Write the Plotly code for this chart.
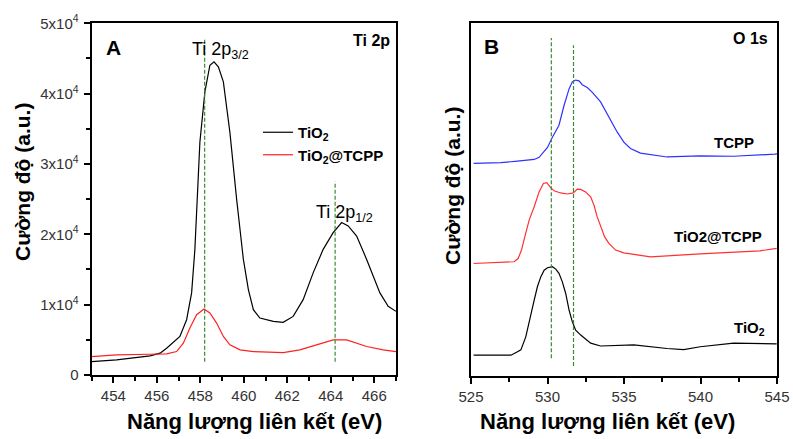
import plotly.graph_objects as go

# ---------- Panel A : Ti 2p ----------
a_tio2_x = [453.0, 454.15, 455.69, 456.15, 456.45, 457.06, 457.37, 457.60, 457.75, 457.83,
            457.98, 458.21, 458.44, 458.63, 458.83, 459.06, 459.36, 459.67, 459.98, 460.21,
            460.44, 460.74, 461.36, 461.81, 462.27, 462.73, 463.19, 463.65, 464.11, 464.50,
            464.80, 465.19, 465.65, 466.26, 466.64, 467.0]
a_tio2_y = [1900, 2140, 2710, 3100, 3810, 5480, 7860, 11670, 17860, 23100,
            33100, 40240, 44040, 44530, 43810, 41670, 34520, 25000, 16430, 12140,
            9290, 8100, 7620, 7480, 8330, 10710, 14520, 17860, 20240, 21670,
            21190, 19760, 16430, 11670, 9760, 9050]

a_tcpp_x = [453.0, 454.15, 455.69, 456.45, 456.91, 457.22, 457.52, 457.83, 458.17, 458.44,
            458.75, 459.06, 459.36, 459.83, 460.44, 461.81, 462.58, 463.35, 464.11, 464.73,
            465.19, 465.65, 466.41, 467.0]
a_tcpp_y = [2620, 2860, 2950, 3000, 3330, 4520, 6670, 8570, 9380, 8810,
            7380, 5480, 4290, 3570, 3330, 3190, 3570, 4290, 5000, 5000,
            4520, 4050, 3570, 3330]

a_peaks = [458.2, 464.2]
a_yticks = [0, 10000, 20000, 30000, 40000, 50000]
a_yticktext = ["0", "1x10<sup>4</sup>", "2x10<sup>4</sup>", "3x10<sup>4</sup>",
               "4x10<sup>4</sup>", "5x10<sup>4</sup>"]
a_xticks = [454, 456, 458, 460, 462, 464, 466]

# ---------- Panel B : O 1s (a.u., stacked) ----------
b_tcpp_x = [525.17, 526.95, 528.04, 529.13, 529.45, 529.67, 530.0, 530.32, 530.75, 531.08,
            531.41, 531.62, 531.84, 532.06, 532.27, 532.60, 532.93, 533.47, 534.01, 534.55,
            534.99, 535.42, 536.08, 537.81, 539.98, 542.16, 544.87, 545.0]
b_tcpp_y = [60.3, 60.5, 60.9, 61.4, 62.0, 63.0, 64.8, 67.7, 71.1, 76.7,
            81.4, 83.4, 83.9, 83.7, 82.6, 81.8, 80.4, 77.7, 73.5, 69.2,
            66.3, 64.5, 63.2, 62.1, 62.4, 62.3, 62.9, 63.0]

b_mix_x = [525.17, 527.82, 528.08, 528.30, 528.52, 528.80, 529.13, 529.45, 529.73, 529.95,
           530.17, 530.43, 530.86, 531.30, 531.69, 531.95, 532.17, 532.49, 532.82, 533.04,
           533.25, 533.47, 533.73, 534.01, 534.45, 534.99, 536.73, 539.98, 542.16, 543.89,
           544.98]
b_mix_y = [31.9, 32.4, 33.3, 35.7, 39.5, 44.2, 48.0, 52.2, 54.6, 54.8,
           53.6, 52.5, 51.9, 51.6, 51.9, 53.0, 52.9, 52.2, 50.8, 48.4,
           45.1, 42.3, 39.5, 37.6, 35.7, 34.9, 33.8, 34.6, 35.0, 35.5,
           36.2]

b_tio2_x = [525.17, 527.61, 528.04, 528.26, 528.58, 528.91, 529.13, 529.34, 529.56, 529.78,
            530.00, 530.32, 530.54, 530.75, 530.97, 531.19, 531.41, 531.62, 531.84, 532.17,
            532.82, 533.47, 535.64, 537.81, 538.90, 539.98, 542.16, 544.98]
b_tio2_y = [5.9, 5.9, 6.9, 7.4, 11.1, 17.8, 21.5, 25.3, 28.1, 30.0,
            30.7, 31.0, 30.3, 29.1, 26.7, 23.4, 18.7, 15.4, 13.0, 11.6,
            9.3, 8.5, 8.8, 7.8, 7.5, 8.3, 9.3, 9.1]

b_peaks = [530.25, 531.7]
b_xticks = [525, 530, 535, 540, 545]

FONT = "Liberation Sans, Arial, sans-serif"
GREEN = "#3d8a35"

fig = go.Figure()
fig.add_trace(go.Scatter(x=a_tio2_x, y=a_tio2_y, mode="lines", name="TiO<sub>2</sub>",
                         line=dict(color="black", width=1.2), xaxis="x", yaxis="y"))
fig.add_trace(go.Scatter(x=a_tcpp_x, y=a_tcpp_y, mode="lines", name="TiO<sub>2</sub>@TCPP",
                         line=dict(color="#ff2020", width=1.2), xaxis="x", yaxis="y"))
fig.add_trace(go.Scatter(x=b_tcpp_x, y=b_tcpp_y, mode="lines", showlegend=False,
                         line=dict(color="#3030ff", width=1.2), xaxis="x2", yaxis="y2"))
fig.add_trace(go.Scatter(x=b_mix_x, y=b_mix_y, mode="lines", showlegend=False,
                         line=dict(color="#ff3030", width=1.2), xaxis="x2", yaxis="y2"))
fig.add_trace(go.Scatter(x=b_tio2_x, y=b_tio2_y, mode="lines", showlegend=False,
                         line=dict(color="black", width=1.2), xaxis="x2", yaxis="y2"))

# dashed guide lines
dash = dict(color=GREEN, width=1.2, dash="4px,2px")
shapes = [
    dict(type="line", xref="x", yref="y", x0=a_peaks[0], x1=a_peaks[0], y0=1900, y1=47800, line=dash),
    dict(type="line", xref="x", yref="y", x0=a_peaks[1], x1=a_peaks[1], y0=1900, y1=27500, line=dash),
    dict(type="line", xref="x2", yref="y2", x0=b_peaks[0], x1=b_peaks[0], y0=5, y1=95.8, line=dash),
    dict(type="line", xref="x2", yref="y2", x0=b_peaks[1], x1=b_peaks[1], y0=2.8, y1=93.8, line=dash),
]

axis_common = dict(showline=True, linecolor="black", linewidth=2, mirror=True,
                   ticks="outside", ticklen=6, tickwidth=1.5, tickcolor="black",
                   showgrid=False, zeroline=False, automargin=False,
                   tickfont=dict(family=FONT, size=15, color="#333"))

ann = []
def text(x, y, s, size, bold=False, xanchor="center", color="black"):
    ann.append(dict(x=x / 793, y=1 - y / 439, xref="paper", yref="paper", text=s,
                    showarrow=False, xanchor=xanchor, yanchor="middle",
                    font=dict(family=FONT, size=size, color=color,
                              weight="bold" if bold else "normal")))

text(113, 47, "A", 21, True)
text(392, 40, "Ti 2p", 16, True, xanchor="right")
text(220, 50, "Ti 2p<sub>3/2</sub>", 18)
text(344, 213, "Ti 2p<sub>1/2</sub>", 18)
text(492, 46, "B", 21, True)
text(750, 38, "O 1s", 16, True)
text(734, 142, "TCPP", 15, True)
text(718, 236, "TiO2@TCPP", 15, True)
text(749, 328, "TiO<sub>2</sub>", 15, True)
text(254, 421, "Năng lượng liên kết (eV)", 22, True)
text(607, 421, "Năng lượng liên kết (eV)", 22, True)
for xc, yc in [(22, 182), (452, 186)]:
    ann.append(dict(x=xc / 793, y=1 - yc / 439, xref="paper", yref="paper",
                    xanchor="center", yanchor="middle",
                    text="Cường độ (a.u.)", textangle=-90, showarrow=False,
                    font=dict(family=FONT, size=21, color="black", weight="bold")))

fig.update_layout(
    width=793, height=439,
    margin=dict(l=0, r=0, t=0, b=0, autoexpand=False),
    paper_bgcolor="white", plot_bgcolor="white",
    xaxis=dict(domain=[91.6 / 793, 396 / 793], range=[453, 467], tickvals=a_xticks,
               minor=dict(dtick=1, ticks="outside", ticklen=4, tickcolor="black"),
               anchor="y", **axis_common),
    yaxis=dict(domain=[1 - 375 / 439, 1 - 23.3 / 439], range=[0, 50000],
               tickvals=a_yticks, ticktext=a_yticktext, ticklabelstandoff=2,
               minor=dict(dtick=5000, ticks="outside", ticklen=4, tickcolor="black"),
               anchor="x", **axis_common),
    xaxis2=dict(domain=[471 / 793, 777 / 793], range=[525, 545], tickvals=b_xticks,
                minor=dict(dtick=2.5, ticks="outside", ticklen=4, tickcolor="black"),
                anchor="y2", **axis_common),
    yaxis2=dict(domain=[1 - 376 / 439, 1 - 23.3 / 439], range=[0, 100],
                showline=True, linecolor="black", linewidth=2, mirror=True,
                showticklabels=False, ticks="", showgrid=False, zeroline=False,
                automargin=False, anchor="x2"),
    shapes=shapes,
    annotations=ann,
    showlegend=True,
    legend=dict(x=258 / 793, y=1 - 116 / 439, xanchor="left", yanchor="top",
                bgcolor="rgba(0,0,0,0)", tracegroupgap=0,
                font=dict(family=FONT, size=15, color="black", weight="bold")),
)

fig.write_html("out.html", config={"displayModeBar": False},
               post_script="document.body.style.margin='0';document.body.style.overflow='hidden';")
